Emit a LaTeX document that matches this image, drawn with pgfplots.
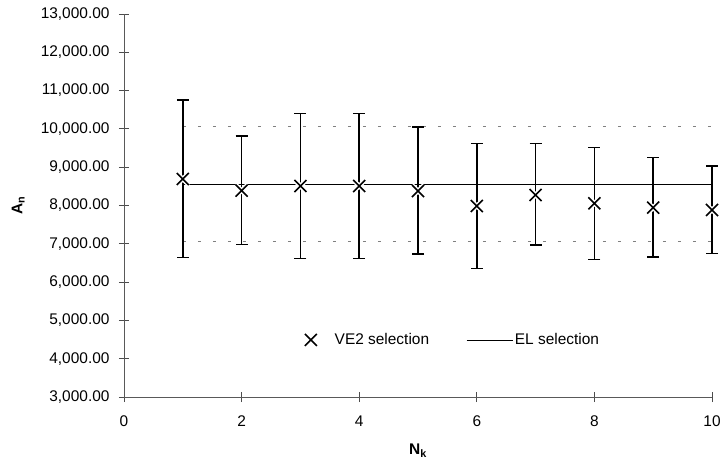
\documentclass[border=0pt]{standalone}
\usepackage{fontspec}
\setmainfont{Liberation Sans}
\usepackage{pgfplots}
\pgfplotsset{compat=1.18}
\begin{document}
\begin{tikzpicture}
\path[use as bounding box] (-124bp,-70bp) rectangle (601bp,397bp);
\begin{axis}[
 at={(0,0)}, anchor=south west,
 scale only axis, width=588bp, height=383bp,
 xmin=0, xmax=10, ymin=3000, ymax=13000,
 xtick={0,2,...,10}, ytick={3000,4000,...,13000},
 axis x line=bottom, axis y line=left,
 axis line style={gray!70!black, line width=1pt, -},
 tick align=center, major tick length=10bp,
 tick style={gray!60!black, line width=0.8pt},
 /pgf/number format/assume math mode=true,
 ticklabel style={font=\fontsize{15.5}{18}\selectfont},
 y tick label style={xshift=-6bp, /pgf/number format/.cd, fixed, fixed zerofill, precision=2, 1000 sep={,}},
 x tick label style={yshift=-10bp},
 scaled y ticks=false,
 xlabel={\textbf{N\textsubscript{k}}}, ylabel={\textbf{A\textsubscript{n}}},
 label style={font=\fontsize{15.5}{18}\selectfont},
 xlabel style={at={(axis description cs:0.5,-0.141)}, anchor=center},
 ylabel style={at={(axis description cs:-0.180,0.5)}, anchor=center},
 clip=false,
 legend style={at={(axis description cs:0.306,0.149)}, anchor=west, draw=none, fill=none,
   inner sep=0pt,
   font=\fontsize{15.5}{18}\selectfont, legend columns=2,
   /tikz/every even column/.append style={column sep=35bp}},
]
\addlegendimage{legend image code/.code={\draw[black, line width=1.6pt] (-6bp,-6bp)--(6bp,6bp) (-6bp,6bp)--(6bp,-6bp);}}
\addlegendentry{\hspace{15bp}VE2 selection}
\addlegendimage{legend image code/.code={\draw[black, line width=0.8pt] (0bp,0bp) -- (46bp,0bp);}}
\addlegendentry{EL selection}
% EL line and limits
\addplot[black, line width=0.8pt, forget plot] coordinates {(1,8553) (10,8553)};
\addplot[gray, line width=1pt, dash pattern=on 3bp off 12bp, forget plot] coordinates {(1,10050) (10,10050)};
\addplot[gray, line width=1pt, dash pattern=on 3bp off 12bp, forget plot] coordinates {(1,7073) (10,7073)};
% error bars
\addplot[draw=none, mark=none, forget plot,
  error bars/.cd, y dir=both, y explicit,
  error bar style={draw=black, line width=1.6pt},
  error mark options={draw=black, rotate=90, mark size=6bp, line width=1.6pt}]
  coordinates {
  (1,8692) += (0,2063) -= (0,2055)
  (2,8387) += (0,1428) -= (0,1409)
  (3,8509) += (0,1898) -= (0,1897)
  (4,8509) += (0,1898) -= (0,1897)
  (5,8378) += (0,1664) -= (0,1652)
  (6,7987) += (0,1628) -= (0,1627)
  (7,8274) += (0,1341) -= (0,1305)
  (8,8057) += (0,1462) -= (0,1471)
  (9,7944) += (0,1305) -= (0,1289)
  (10,7883) += (0,1148) -= (0,1132)
  };
% white halo
\addplot[only marks, mark=x, mark size=8.5bp, mark options={white, line width=4.5pt}, forget plot]
  coordinates {(1,8692) (2,8387) (3,8509) (4,8509) (5,8378) (6,7987) (7,8274) (8,8057) (9,7944) (10,7883)};
% markers
\addplot[only marks, mark=x, mark size=8.5bp, mark options={black, line width=1.6pt}, forget plot]
  coordinates {(1,8692) (2,8387) (3,8509) (4,8509) (5,8378) (6,7987) (7,8274) (8,8057) (9,7944) (10,7883)};
\end{axis}
\end{tikzpicture}
\end{document}
